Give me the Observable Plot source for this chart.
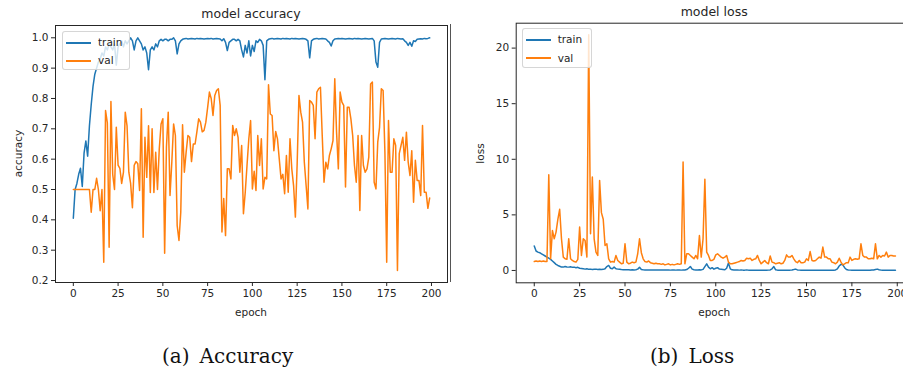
<!DOCTYPE html>
<html>
<head>
<meta charset="utf-8">
<script src="https://cdn.jsdelivr.net/npm/d3@7"></script>
<script src="https://cdn.jsdelivr.net/npm/@observablehq/plot@0.6"></script>
<style>
  html, body { margin: 0; padding: 0; background: #fff; }
  body { width: 903px; height: 373px; overflow: hidden; position: relative; font-family: "DejaVu Sans", sans-serif; color: #262626; }
  .abs { position: absolute; }
  .title { font-size: 12.5px; text-align: center; line-height: 15px; white-space: nowrap; }
  .axlabel { font-size: 10.5px; line-height: 13px; white-space: nowrap; text-align: center; }
  .ylab { transform: rotate(-90deg); transform-origin: center center; }
  .caption { font-family: "DejaVu Serif", serif; font-size: 20px; line-height: 24px; white-space: nowrap; color: #111; }
  .legend { background: rgba(255,255,255,0.8); border: 1px solid rgba(204,204,204,0.8); border-radius: 3px; box-sizing: border-box; }
  .legrow { position: absolute; font-size: 10.5px; line-height: 13px; white-space: nowrap; }
  .legline { position: absolute; height: 2px; }
</style>
</head>
<body>
<div id="root"></div>
<script>
// ---- data ----
const epochTicks = [0, 25, 50, 75, 100, 125, 150, 175, 200];
const accTicks = [0.2, 0.3, 0.4, 0.5, 0.6, 0.7, 0.8, 0.9, 1.0];
const lossTicks = [0, 5, 10, 15, 20];
const seriesNames = ["train", "val"];
const seriesColors = ["#1f77b4", "#ff7f0e"];

const trainAcc = [
  0.405, 0.50, 0.52, 0.55, 0.57, 0.51, 0.62, 0.66, 0.61, 0.71,
  0.78, 0.84, 0.88, 0.90, 0.92, 0.93, 0.95, 0.94, 0.97, 0.96,
  0.98, 0.97, 0.96, 0.98, 0.91, 0.97, 0.98, 0.99, 0.97, 0.99,
  0.98, 0.99, 1.0, 0.99, 0.96, 0.99, 1.0, 0.99, 0.98, 0.96,
  0.97, 0.95, 0.895, 0.96, 0.97, 0.96, 0.98, 0.97, 0.99, 0.995,
  0.99, 0.995, 0.995, 0.99, 0.995, 0.995, 1.0, 0.99, 0.947, 0.98,
  0.99, 0.995, 0.997, 0.998, 0.996, 0.997, 0.998, 0.997, 0.996, 0.998,
  0.997, 0.998, 0.997, 0.996, 0.997, 0.998, 0.997, 0.998, 0.996, 0.997,
  0.998, 0.997, 0.996, 0.99, 0.997, 0.985, 0.958, 0.985, 0.99, 0.995,
  0.995, 0.99, 0.995, 0.99, 0.96, 0.937, 0.975, 0.95, 0.99, 0.94,
  0.975, 0.955, 0.99, 0.985, 0.995, 0.99, 0.975, 0.862, 0.99, 0.995,
  0.997, 0.998, 0.996, 0.997, 0.998, 0.997, 0.996, 0.998, 0.997, 0.998,
  0.997, 0.996, 0.998, 0.997, 0.998, 0.997, 0.996, 0.997, 0.998, 0.997,
  0.995, 0.99, 0.934, 0.99, 0.995, 0.997, 0.998, 0.996, 0.997, 0.998,
  0.997, 0.996, 0.99, 0.985, 0.973, 0.99, 0.996, 0.997, 0.998, 0.997,
  0.998, 0.997, 0.996, 0.997, 0.998, 0.997, 0.996, 0.998, 0.997, 0.998,
  0.997, 0.996, 0.997, 0.998, 0.997, 0.996, 0.997, 0.998, 0.99, 0.92,
  0.903, 0.985, 0.996, 0.997, 0.998, 0.997, 0.996, 0.997, 0.998, 0.997,
  0.996, 0.998, 0.997, 0.996, 0.997, 0.99, 0.985, 0.975, 0.985, 0.972,
  0.99, 0.988, 0.995, 0.996, 0.997, 0.996, 0.998, 0.997, 0.998, 1.0
];

const valAcc = [
  0.50, 0.50, 0.50, 0.50, 0.50, 0.50, 0.50, 0.50, 0.50, 0.50,
  0.425, 0.50, 0.50, 0.537, 0.50, 0.43, 0.50, 0.26, 0.76, 0.72,
  0.31, 0.79, 0.55, 0.50, 0.705, 0.58, 0.57, 0.52, 0.557, 0.755,
  0.71, 0.557, 0.52, 0.44, 0.58, 0.592, 0.585, 0.497, 0.766, 0.343,
  0.672, 0.54, 0.71, 0.49, 0.70, 0.49, 0.623, 0.50, 0.634, 0.716,
  0.733, 0.29, 0.64, 0.755, 0.48, 0.59, 0.716, 0.678, 0.381, 0.332,
  0.425, 0.713, 0.557, 0.623, 0.678, 0.672, 0.592, 0.65, 0.65, 0.69,
  0.733, 0.722, 0.69, 0.695, 0.722, 0.77, 0.821, 0.80, 0.744, 0.81,
  0.826, 0.832, 0.777, 0.36, 0.47, 0.348, 0.568, 0.568, 0.535, 0.711,
  0.678, 0.70, 0.672, 0.557, 0.645, 0.42, 0.49, 0.58, 0.667, 0.727,
  0.502, 0.56, 0.497, 0.678, 0.579, 0.667, 0.502, 0.54, 0.535, 0.845,
  0.749, 0.744, 0.628, 0.691, 0.667, 0.601, 0.535, 0.55, 0.486, 0.612,
  0.491, 0.667, 0.568, 0.513, 0.409, 0.585, 0.81, 0.755, 0.722, 0.59,
  0.513, 0.436, 0.793, 0.788, 0.777, 0.667, 0.821, 0.832, 0.837, 0.678,
  0.524, 0.59, 0.568, 0.612, 0.634, 0.661, 0.865, 0.689, 0.568, 0.821,
  0.788, 0.777, 0.508, 0.771, 0.771, 0.733, 0.678, 0.579, 0.524, 0.678,
  0.431, 0.678, 0.579, 0.557, 0.568, 0.607, 0.848, 0.854, 0.524, 0.502,
  0.656, 0.705, 0.832, 0.826, 0.623, 0.26, 0.727, 0.557, 0.557, 0.667,
  0.645, 0.233, 0.618, 0.645, 0.672, 0.596, 0.689, 0.59, 0.546, 0.628,
  0.458, 0.596, 0.53, 0.53, 0.48, 0.711, 0.491, 0.491, 0.438, 0.472
];

const trainLoss = [
  2.2, 1.75, 1.65, 1.6, 1.5, 1.4, 1.3, 1.2, 1.1, 1.0,
  0.85, 0.7, 0.55, 0.45, 0.38, 0.3, 0.3, 0.35, 0.32, 0.3,
  0.33, 0.28, 0.3, 0.25, 0.28, 0.2, 0.18, 0.15, 0.12, 0.15,
  0.1, 0.12, 0.08, 0.1, 0.12, 0.08, 0.1, 0.08, 0.1, 0.15,
  0.35, 0.45, 0.2, 0.15, 0.3, 0.15, 0.12, 0.1, 0.08, 0.07,
  0.06, 0.07, 0.06, 0.05, 0.06, 0.05, 0.06, 0.12, 0.28, 0.08,
  0.06, 0.05, 0.05, 0.04, 0.05, 0.04, 0.05, 0.04, 0.04, 0.05,
  0.04, 0.04, 0.05, 0.04, 0.04, 0.03, 0.04, 0.04, 0.03, 0.04,
  0.04, 0.03, 0.04, 0.04, 0.08, 0.2, 0.36, 0.12, 0.06, 0.05,
  0.05, 0.06, 0.05, 0.1, 0.35, 0.6, 0.3, 0.15, 0.25, 0.12,
  0.2, 0.25, 0.12, 0.1, 0.08, 0.06, 0.2, 0.66, 0.15, 0.06,
  0.05, 0.04, 0.04, 0.03, 0.04, 0.03, 0.03, 0.04, 0.03, 0.03,
  0.03, 0.03, 0.02, 0.03, 0.03, 0.02, 0.03, 0.03, 0.02, 0.03,
  0.05, 0.15, 0.35, 0.06, 0.03, 0.03, 0.02, 0.03, 0.02, 0.02,
  0.03, 0.03, 0.05, 0.08, 0.12, 0.05, 0.03, 0.02, 0.03, 0.02,
  0.02, 0.03, 0.02, 0.02, 0.03, 0.02, 0.02, 0.03, 0.02, 0.02,
  0.02, 0.03, 0.02, 0.02, 0.03, 0.02, 0.05, 0.15, 0.4, 0.55,
  0.5, 0.25, 0.08, 0.04, 0.03, 0.02, 0.02, 0.03, 0.02, 0.02,
  0.03, 0.02, 0.02, 0.03, 0.02, 0.02, 0.05, 0.04, 0.08, 0.12,
  0.06, 0.03, 0.02, 0.02, 0.03, 0.02, 0.02, 0.03, 0.02, 0.02
];

const valLoss = [
  0.8, 0.85, 0.8, 0.85, 0.8, 0.85, 0.8, 0.8, 8.6, 1.05,
  3.6, 2.85, 3.45, 4.6, 5.5, 2.85, 1.2, 1.05, 1.0, 2.85,
  1.05, 0.9, 0.8, 0.75, 1.0, 3.9, 1.35, 2.85, 2.7, 1.2,
  21.2, 3.3, 8.4, 2.85, 1.65, 1.35, 8.1, 5.2, 4.6, 2.25,
  2.4, 1.05, 0.75, 0.8, 0.75, 1.35, 0.9, 0.75, 0.6, 0.65,
  2.4, 0.75, 0.6, 0.65, 0.75, 0.7, 0.75, 1.5, 2.85, 1.6,
  1.05, 0.8, 0.75, 0.85, 0.7, 0.65, 0.6, 0.65, 0.6, 0.6,
  0.55, 0.6, 0.5, 0.55, 0.6, 0.5, 0.55, 0.5, 0.55, 0.6,
  0.55, 0.6, 9.75, 0.6, 1.5, 1.5, 1.35, 1.2, 1.05, 1.35,
  1.05, 3.15, 1.2, 2.85, 8.2, 1.65, 1.35, 0.9, 0.9, 1.0,
  1.4, 1.5, 1.35, 1.2, 1.1, 1.2, 1.35, 0.75, 0.6, 0.6,
  0.65, 0.7, 0.75, 0.8, 0.9, 0.85, 0.9, 1.1, 1.05, 1.1,
  0.9, 1.0, 1.05, 1.35, 0.9, 0.6, 0.75, 0.9, 0.7, 0.6,
  1.3, 0.75, 0.7, 0.6, 0.65, 0.7, 0.6, 0.65, 0.9, 1.4,
  1.2, 1.2, 1.35, 1.05, 0.8, 0.7, 0.9, 0.7, 0.7, 0.75,
  1.05, 0.9, 1.7, 0.9, 0.85, 0.9, 1.05, 1.2, 1.1, 2.1,
  1.2, 1.2, 1.05, 1.05, 0.75, 0.7, 0.6, 0.75, 1.1, 0.75,
  0.5, 0.6, 0.7, 0.7, 1.2, 0.9, 1.0, 1.05, 1.0, 1.05,
  2.4, 1.35, 1.2, 1.2, 1.05, 1.05, 1.1, 1.05, 2.4, 1.05,
  1.35, 1.2, 1.35, 1.3, 1.65, 1.2, 1.35, 1.35, 1.3, 1.3
];

// ---- build ----
const root = document.getElementById("root");
const epochs = d3.range(trainAcc.length);
const accData = epochs.map(i => ({epoch: i, train: trainAcc[i], val: valAcc[i]}));
const lossData = epochs.map(i => ({epoch: i, train: trainLoss[i], val: valLoss[i]}));

function el(cls, text, css) {
  const d = document.createElement("div");
  d.className = "abs " + cls;
  if (text != null) d.textContent = text;
  Object.assign(d.style, css);
  root.appendChild(d);
  return d;
}

function panel({data, left, width, height, mL, mR, mT, mB, yDomain, yTicks, yFormat}) {
  const svg = Plot.plot({
    width, height,
    marginLeft: mL, marginRight: mR, marginTop: mT, marginBottom: mB,
    style: {fontFamily: "DejaVu Sans", fontSize: "10.5px", color: "#262626", background: "transparent", overflow: "visible"},
    x: {domain: [-9.95, 208.95]},
    y: {domain: yDomain},
    marks: [
      Plot.line(data, {x: "epoch", y: "train", stroke: seriesColors[0], strokeWidth: 1.5}),
      Plot.line(data, {x: "epoch", y: "val", stroke: seriesColors[1], strokeWidth: 1.5}),
      Plot.frame({stroke: "#262626", strokeWidth: 1}),
      Plot.axisX({ticks: epochTicks, tickSize: 4, tickPadding: 3, label: null, tickFormat: d3.format("d")}),
      Plot.axisY({ticks: yTicks, tickSize: 4, tickPadding: 3, label: null, tickFormat: yFormat})
    ]
  });
  svg.style.position = "absolute";
  svg.style.left = left + "px";
  svg.style.top = "0px";
  root.appendChild(svg);
}

// Accuracy panel: frame x 55..447, y 25..282
panel({data: accData, left: 0, width: 450, height: 320, mL: 55, mR: 3, mT: 25, mB: 38,
       yDomain: [0.1935, 1.0405], yTicks: accTicks, yFormat: d3.format(".1f")});
// Loss panel: frame x 515.7..913 (clipped by window), y 22.7..282.3
panel({data: lossData, left: 450, width: 470, height: 320, mL: 65.7, mR: 7, mT: 22.7, mB: 37.7,
       yDomain: [-1.11, 22.24], yTicks: lossTicks, yFormat: d3.format("d")});

// separator line seen at x=450
el("", null, {left: "450px", top: "24px", width: "1px", height: "258px", background: "#555"});

// titles
el("title", "model accuracy", {left: "55px", width: "392px", top: "6px"});
el("title", "model loss", {left: "515.7px", width: "397px", top: "4px"});

// axis labels
el("axlabel", "epoch", {left: "55px", width: "392px", top: "306px"});
el("axlabel", "epoch", {left: "515.7px", width: "397px", top: "306px"});
el("axlabel ylab", "accuracy", {left: "-12px", width: "60px", top: "147px"});
el("axlabel ylab", "loss", {left: "450px", width: "60px", top: "147px"});

// legends
function legend(x, y, w, h) {
  const box = el("legend", null, {left: x + "px", top: y + "px", width: w + "px", height: h + "px"});
  seriesNames.forEach((name, i) => {
    const line = document.createElement("div");
    line.className = "legline";
    Object.assign(line.style, {left: "3px", width: "25px", top: (9.5 + 18.3 * i) + "px", background: seriesColors[i]});
    box.appendChild(line);
    const t = document.createElement("div");
    t.className = "legrow";
    t.textContent = name;
    Object.assign(t.style, {left: "35px", top: (4 + 18.3 * i) + "px"});
    box.appendChild(t);
  });
}
legend(62, 31, 68, 39);
legend(521.7, 28.3, 70, 40);

// captions
el("caption", "(a)\u2002Accuracy", {left: "162px", top: "344px"});
el("caption", "(b)\u2002Loss", {left: "650px", top: "344px"});
</script>
</body>
</html>
